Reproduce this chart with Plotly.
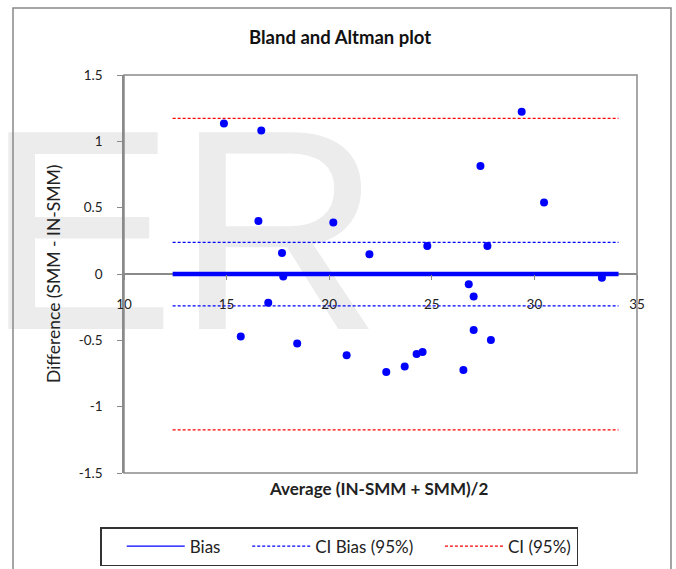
import plotly.graph_objects as go

# ---- data ----
avg = [14.87, 16.69, 16.55, 20.20, 17.70, 17.76, 21.96, 24.78, 27.37, 27.71, 29.38, 30.47, 33.29,
       26.80, 27.04, 17.03, 15.69, 18.44, 20.85, 22.78, 23.68, 24.26, 24.55, 26.54, 27.04, 27.88]
diff = [1.135, 1.082, 0.400, 0.388, 0.159, -0.018, 0.149, 0.211, 0.815, 0.211, 1.223, 0.539, -0.028,
        -0.078, -0.169, -0.216, -0.472, -0.523, -0.613, -0.739, -0.698, -0.603, -0.588, -0.724, -0.422, -0.497]
line_x = [12.37, 34.1]
bias = 0.0
ci_bias_low, ci_bias_high = -0.240, 0.238
ci_low, ci_high = -1.175, 1.173
x_ticks = [10, 15, 20, 25, 30, 35]
y_ticks = [-1.5, -1, -0.5, 0, 0.5, 1, 1.5]
y_ticktext = ["-1.5", "-1", "-0.5", "0", "0.5", "1", "1.5"]
legend_names = ["Bias", "CI Bias (95%)", "CI (95%)"]
watermark = "ER"

BLUE = "#0000ff"
RED = "#ff0000"
GRAY = "#8a8a8a"
FONT = "Lato"
NB = "\u00a0"

fig = go.Figure()

# watermark (behind everything)
fig.add_trace(go.Scatter(x=[12.9], y=[0.125], mode="text", text=[watermark],
                         textposition="middle center",
                         textfont=dict(family="Liberation Sans", size=286, color="#ececec"),
                         cliponaxis=False, showlegend=False, hoverinfo="skip"))

# bias line
fig.add_trace(go.Scatter(x=line_x, y=[bias, bias], mode="lines",
                         line=dict(color=BLUE, width=4.5), showlegend=False, hoverinfo="skip"))
# CI bias lines
for i, v in enumerate([ci_bias_high, ci_bias_low]):
    fig.add_trace(go.Scatter(x=line_x, y=[v, v], mode="lines",
                             line=dict(color=BLUE, width=1.3, dash="3px,2px"),
                             name=legend_names[1] + NB * 5, legendrank=2, showlegend=(i == 0)))
# CI lines
for i, v in enumerate([ci_high, ci_low]):
    fig.add_trace(go.Scatter(x=line_x, y=[v, v], mode="lines",
                             line=dict(color=RED, width=1.3, dash="3px,2px"),
                             name=legend_names[2], legendrank=3, showlegend=(i == 0)))
# legend entry for bias
fig.add_trace(go.Scatter(x=[None], y=[None], mode="lines", line=dict(color=BLUE, width=1.2),
                         name=legend_names[0] + NB * 5, legendrank=1))

# points
fig.add_trace(go.Scatter(x=avg, y=diff, mode="markers",
                         marker=dict(color=BLUE, size=8), showlegend=False))

L, R, T, B = 124, 39, 75, 96
W, H = 676, 569
pw = W - L - R
ph = H - T - B

def px_x(p):
    return (p - L) / pw

def px_y(p):
    return (H - B - p) / ph

fig.update_layout(
    width=W, height=H,
    margin=dict(l=L, r=R, t=T, b=B, autoexpand=False),
    paper_bgcolor="white", plot_bgcolor="rgba(0,0,0,0)",
    font=dict(family=FONT, size=13, color="#222"),
    showlegend=True,
    legend=dict(orientation="h", x=px_x(100), y=px_y(527), xanchor="left", yanchor="top",
                bordercolor="#333", borderwidth=1.5, bgcolor="white",
                font=dict(family=FONT, size=17, color="#222"), itemwidth=58,
                title=dict(text=NB * 2, side="left"),
                traceorder="normal"),
    xaxis=dict(range=[10, 35], tickvals=x_ticks, showgrid=False, zeroline=False,
               showline=False,
               ticks="outside", ticklen=5, tickcolor=GRAY, tickwidth=1,
               anchor="free", position=0.5, ticklabelstandoff=13,
               tickfont=dict(family=FONT, size=13.5, color="#222")),
    yaxis=dict(range=[-1.5, 1.5], tickvals=y_ticks, ticktext=y_ticktext, showgrid=False,
               zeroline=True, zerolinecolor=GRAY, zerolinewidth=1.5,
               showline=True, linecolor=GRAY, linewidth=1.5,
               ticks="outside", ticklen=5, tickcolor=GRAY, tickwidth=1,
               ticklabelstandoff=12,
               tickfont=dict(family=FONT, size=13.5, color="#222")),
    shapes=[
        dict(type="rect", xref="paper", yref="paper", x0=0, x1=1, y0=0, y1=1,
             line=dict(color=GRAY, width=1.5)),
        dict(type="rect", xref="paper", yref="paper", x0=px_x(13), x1=px_x(671),
             y0=px_y(590), y1=px_y(8), line=dict(color="#888", width=1.5)),
    ],
    annotations=[
        dict(text="<b>Bland and Altman plot</b>", xref="paper", yref="paper",
             x=px_x(340), y=px_y(37), xanchor="center", yanchor="middle", showarrow=False,
             font=dict(family=FONT, size=18.5, color="#111")),
        dict(text="<b>Average (IN-SMM + SMM)/2</b>", xref="paper", yref="paper",
             x=px_x(379), y=px_y(488), xanchor="center", yanchor="middle", showarrow=False,
             font=dict(family=FONT, size=17, color="#222")),
        dict(text="Difference (SMM - IN-SMM)", xref="paper", yref="paper",
             x=px_x(53), y=px_y(274), xanchor="center", yanchor="middle", showarrow=False,
             textangle=-90, font=dict(family=FONT, size=17.5, color="#222")),
    ],
)

fig.write_html("out.html", config={"displayModeBar": False},
               post_script="document.body.style.margin='0';document.body.style.overflow='hidden';")
